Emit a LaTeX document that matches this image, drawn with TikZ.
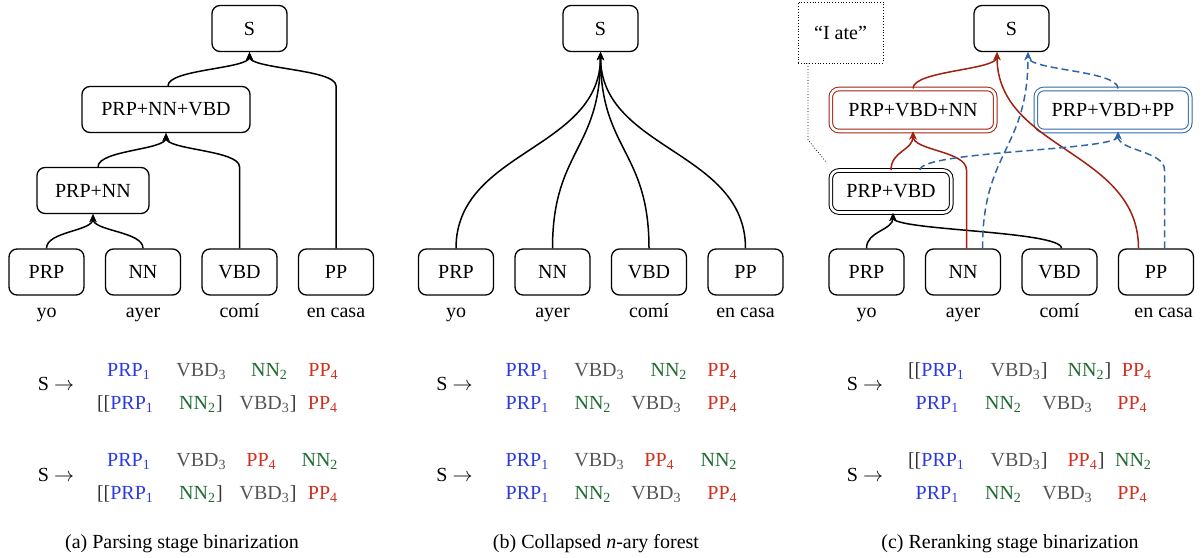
\documentclass[tikz,border=0pt]{standalone}
\usepackage{fontspec}
\setmainfont{Liberation Serif}
\usetikzlibrary{arrows.meta}
\usetikzlibrary{calc}

\definecolor{cprp}{HTML}{2B3AE0}
\definecolor{cnn}{HTML}{1F6B32}
\definecolor{cvbd}{HTML}{555555}
\definecolor{cpp}{HTML}{D0301E}
\definecolor{cbr}{HTML}{333333}
\definecolor{dred}{HTML}{A2200F}
\definecolor{dblue}{HTML}{2F67A3}

\newcommand{\tPRP}{\textcolor{cprp}{PRP\textsubscript{1}}}
\newcommand{\tNN}{\textcolor{cnn}{NN\textsubscript{2}}}
\newcommand{\tVBD}{\textcolor{cvbd}{VBD\textsubscript{3}}}
\newcommand{\tPP}{\textcolor{cpp}{PP\textsubscript{4}}}

\tikzset{>={Stealth[length=4pt, width=3.6pt]}, x=0.5pt, y=-0.5pt,
  tag/.style = {draw, rounded corners=4pt, line width=0.65pt,
    minimum width=37.5pt, minimum height=23pt, inner sep=2pt},
  merged/.style = {tag, double, double distance=1.3pt, line width=0.5pt,
    minimum height=21pt},
  note/.style = {draw, densely dotted, line width=0.4pt, minimum width=42.5pt,
    minimum height=30.5pt},
  word/.style = {anchor=base},
  rule/.style = {anchor=base, text=cbr},
  link/.style = {to path={.. controls
    ($(\tikztostart)!.5!(\tikztostart |- \tikztotarget)$) and
    ($(\tikztotarget)!.5!(\tikztotarget |- \tikztostart)$) .. (\tikztotarget)}},
  tree/.style = {->, line width=0.75pt},
  redtree/.style = {tree, draw=dred},
  bluetree/.style = {tree, draw=dblue, dash pattern=on 3.5pt off 2pt}
}

\begin{document}
\begin{tikzpicture}
  \useasboundingbox (0,0) rectangle (1203,557);

  % leaves and words
  \foreach \p/\dx in {a/0, b/409.5, c/820} {
    \foreach \t/\w [count = \n] in {PRP/yo, NN/ayer, VBD/comí, PP/en casa} {
      \pgfmathsetmacro \sh { (\dx > 800 && \n == 4) ? 7.5 : 0 };
      \node [tag] (\p\n) at ({\dx - 50 + 96.5*\n}, 272) {\t};
      \node [word] (\p w\n) at ({\dx - 50 + 96.5*\n + \sh}, 317) {\w};
    }
  }

  % (a) parsing stage binarization
  \node [tag] (aS) at (249.5, 28.5) {S};
  \node [tag, minimum width=84pt] (aPNV) at (166, 109.5) {PRP+NN+VBD};
  \node [tag, minimum width=56pt] (aPN) at (93, 190.5) {PRP+NN};
  \draw [tree] (a1.north) to[link] (aPN.south);
  \draw [tree] (a2.north) to[link] (aPN.south);
  \draw [tree] ([xshift=2.5pt]aPN.north) to[link] (aPNV.south);
  \draw [tree] (a3.north) -- (a3.north |- aPN.north) to[link] (aPNV.south);
  \draw [tree] ([xshift=1pt]aPNV.north) to[link] (aS.south);
  \draw [tree] (a4.north) -- (a4.north |- aPNV.north) to[link] (aS.south);

  % (b) collapsed forest
  \node [tag] (bS) at (600.5, 28.5) {S};
  \foreach \n in {1, ..., 4}
    \draw [tree] (b\n.north) to[link] (bS.south);

  % (c) reranking stage binarization
  \node [tag] (cS) at (1011.5, 28.5) {S};
  \node [merged, draw=dred, minimum width=82.2pt] (cPVN) at (913, 110) {PRP+VBD+NN};
  \node [merged, draw=dblue, minimum width=77.2pt] (cPVP) at (1113, 110) {PRP+VBD+PP};
  \node [merged, minimum width=60.2pt] (cPV) at (891, 191.5) {PRP+VBD};
  \node [note] (cnote) at (840.5, 32.5) {“I ate”};
  \coordinate (cbend) at (808, 140);
  \coordinate (cptr) at (827, 163);
  \draw [densely dotted, line width=0.4pt] (cnote.south west -| cbend) -- (cbend) -- (cptr);

  \coordinate (cNNr) at ([xshift=1.75pt]c2.north);
  \coordinate (cPPb) at ([xshift=4.25pt]c4.north);
  \draw [tree] (c1.north) to[link] ([xshift=1pt]cPV.south);
  \draw [tree] ([xshift=1pt]c3.north) to[link] ([xshift=1pt]cPV.south);
  \draw [redtree] (cPV.north) to[link] (cPVN.south);
  \draw [redtree] (cNNr) -- (cNNr |- cPV.north) to[link] (cPVN.south);
  \draw [redtree] (cPVN.north) to[link] ([xshift=-7.25pt]cS.south);
  \draw [redtree] ([xshift=-8.75pt]c4.north) to[link] ([xshift=-7.25pt]cS.south);
  \draw [bluetree] ([xshift=9.75pt]c2.north) to[link] ([xshift=8.25pt]cS.south);
  \draw [bluetree] ([xshift=14.5pt]cPV.north) to[link] ([xshift=2.5pt]cPVP.south);
  \draw [bluetree] (cPPb) -- (cPPb |- cPV.north) to[link] ([xshift=2.5pt]cPVP.south);
  \draw [bluetree] ([xshift=2.5pt]cPVP.north) to[link] ([xshift=8.25pt]cS.south);

  % rules
  \foreach \p/\x in {a/56, b/454.5, c/865} {
    \node [word] (\p L1) at (\x, 390) {S $\rightarrow$};
    \node [word] (\p L2) at (\x, 481) {S $\rightarrow$};
  }
  \foreach \x/\t [count = \n] in {129/\tPRP, 201.5/\tVBD, 269.5/\tNN, 323.5/\tPP}
    \node [rule] (ar1\n) at (\x, 376) {\t};
  \foreach \x/\t [count = \n] in {129/\tPRP, 201.5/\tVBD, 261.5/\tPP, 320/\tNN}
    \node [rule] (ar3\n) at (\x, 466) {\t};
  \foreach \x/\t [count = \n] in {527.5/\tPRP, 599.5/\tVBD, 669/\tNN, 722.5/\tPP}
    \node [rule] (br1\n) at (\x, 376) {\t};
  \foreach \x/\t [count = \n] in {527.5/\tPRP, 599.5/\tVBD, 659.5/\tPP, 719/\tNN}
    \node [rule] (br3\n) at (\x, 466) {\t};
  \foreach \x/\t [count = \n] in {936.5/[[\tPRP, 1019/\tVBD], 1089.5/\tNN], 1137/\tPP}
    \node [rule] (cr1\n) at (\x, 376) {\t};
  \foreach \x/\t [count = \n] in {936.5/[[\tPRP, 1019/\tVBD], 1086/\tPP], 1133.5/\tNN}
    \node [rule] (cr3\n) at (\x, 466) {\t};
  \foreach \y/\r in {409/2, 499/4} {
    \foreach \x/\t [count = \n] in {125.5/[[\tPRP, 201/\tNN], 268/\tVBD], 323/\tPP}
      \node [rule] (ar\r\n) at (\x, \y) {\t};
    \foreach \x/\t [count = \n] in {527.5/\tPRP, 593/\tNN, 656.5/\tVBD, 722.5/\tPP}
      \node [rule] (br\r\n) at (\x, \y) {\t};
    \foreach \x/\t [count = \n] in {937.5/\tPRP, 1003.5/\tNN, 1067.5/\tVBD, 1132.5/\tPP}
      \node [rule] (cr\r\n) at (\x, \y) {\t};
  }

  % captions
  \node [word] (acap) at (182, 548) {(a) Parsing stage binarization};
  \node [word] (bcap) at (596, 548) {(b) Collapsed \textit{n}-ary forest};
  \node [word] (ccap) at (1010, 548) {(c) Reranking stage binarization};
\end{tikzpicture}
\end{document}
